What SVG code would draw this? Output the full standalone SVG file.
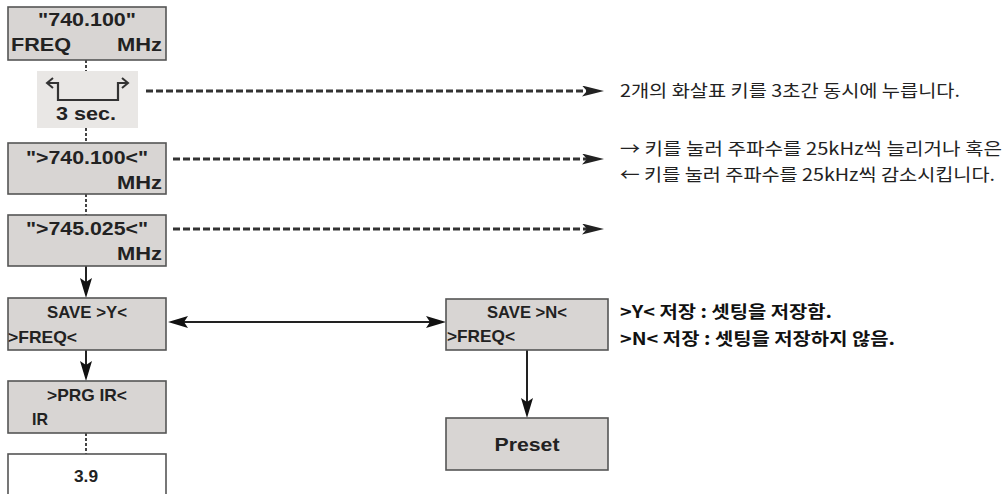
<svg xmlns="http://www.w3.org/2000/svg" width="1004" height="494" viewBox="0 0 1004 494">
<defs>
<style>
.box{fill:#d8d5d3;stroke:#555;stroke-width:1.6}
.wbox{fill:#fff;stroke:#555;stroke-width:1.6}
.bt{font-family:"Liberation Sans",Arial,sans-serif;font-weight:bold;fill:#222}
.kr{font-family:"Noto Sans CJK KR","Noto Sans",sans-serif;fill:#222;font-size:17px}
.krb{font-family:"Noto Sans CJK KR","Noto Sans",sans-serif;fill:#111;font-size:17px;font-weight:bold}
.dash{stroke:#333;stroke-width:2.8;stroke-dasharray:7 3;fill:none}
.vdash{stroke:#444;stroke-width:2;stroke-dasharray:3 2;fill:none}
.solid{stroke:#222;stroke-width:2;fill:none}
</style>
<marker id="ah" markerUnits="userSpaceOnUse" markerWidth="22" markerHeight="11" refX="5" refY="5.5" orient="auto" viewBox="0 0 22 11">
<path d="M0,0 L22,5.5 L0,11 L5,5.5 z" fill="#222"/>
</marker>
<marker id="sh" markerUnits="userSpaceOnUse" markerWidth="20" markerHeight="12" refX="4" refY="6" orient="auto-start-reverse" viewBox="0 0 20 12">
<path d="M0,0 L20,6 L0,12 L4,6 z" fill="#111"/>
</marker>
</defs>
<rect width="1004" height="494" fill="#fff"/>

<g id="connectors">
<line class="vdash" x1="86" y1="60" x2="86" y2="71"/>
<line class="vdash" x1="86" y1="128" x2="86" y2="143"/>
<line class="vdash" x1="86" y1="194" x2="86" y2="215"/>
<line class="vdash" x1="86" y1="433" x2="86" y2="454"/>
<line class="solid" x1="86" y1="266" x2="86" y2="282" marker-end="url(#sh)"/>
<line class="solid" x1="86" y1="350" x2="86" y2="365" marker-end="url(#sh)"/>
<line class="solid" x1="527" y1="350" x2="527" y2="402" marker-end="url(#sh)"/>
<line class="solid" x1="184" y1="322" x2="430" y2="322" marker-start="url(#sh)" marker-end="url(#sh)"/>
<line class="dash" x1="146" y1="91" x2="587" y2="91" marker-end="url(#ah)"/>
<line class="dash" x1="173" y1="159" x2="587" y2="159" marker-end="url(#ah)"/>
<line class="dash" x1="173" y1="229" x2="587" y2="229" marker-end="url(#ah)"/>
</g>

<g id="n-freq">
<rect class="box" x="8" y="7" width="158" height="53"/>
<text class="bt" x="87" y="26" font-size="19" text-anchor="middle" textLength="98" lengthAdjust="spacingAndGlyphs">"740.100"</text>
<text class="bt" x="11" y="51" font-size="19" textLength="60" lengthAdjust="spacingAndGlyphs">FREQ</text>
<text class="bt" x="162" y="51" font-size="19" text-anchor="end" textLength="45" lengthAdjust="spacingAndGlyphs">MHz</text>
</g>

<g id="n-3sec">
<rect x="37" y="71" width="101" height="57" fill="#e9e7e5"/>
<path d="M48,83 L58,83 L58,100 L118,100 L118,83 L127,83" fill="none" stroke="#333" stroke-width="2.2"/>
<path d="M53,78 L47,83 L53,88" fill="none" stroke="#333" stroke-width="2"/>
<path d="M122,78 L128,83 L122,88" fill="none" stroke="#333" stroke-width="2"/>
<text class="bt" x="86" y="120" font-size="19" text-anchor="middle" textLength="60" lengthAdjust="spacingAndGlyphs">3 sec.</text>
</g>

<g id="n-740">
<rect class="box" x="8" y="143" width="158" height="51"/>
<text class="bt" x="87" y="164" font-size="19" text-anchor="middle" textLength="122" lengthAdjust="spacingAndGlyphs">"&gt;740.100&lt;"</text>
<text class="bt" x="162" y="189" font-size="19" text-anchor="end" textLength="45" lengthAdjust="spacingAndGlyphs">MHz</text>
</g>

<g id="n-745">
<rect class="box" x="8" y="215" width="158" height="51"/>
<text class="bt" x="87" y="235" font-size="19" text-anchor="middle" textLength="122" lengthAdjust="spacingAndGlyphs">"&gt;745.025&lt;"</text>
<text class="bt" x="162" y="260" font-size="19" text-anchor="end" textLength="45" lengthAdjust="spacingAndGlyphs">MHz</text>
</g>

<g id="n-save-y">
<rect class="box" x="8" y="298" width="158" height="52"/>
<text class="bt" x="87" y="318" font-size="17" text-anchor="middle" textLength="80" lengthAdjust="spacingAndGlyphs">SAVE &gt;Y&lt;</text>
<text class="bt" x="8" y="343" font-size="17" textLength="69" lengthAdjust="spacingAndGlyphs">&gt;FREQ&lt;</text>
</g>

<g id="n-prg">
<rect class="box" x="8" y="381" width="158" height="52"/>
<text class="bt" x="87" y="401" font-size="17" text-anchor="middle" textLength="80" lengthAdjust="spacingAndGlyphs">&gt;PRG IR&lt;</text>
<text class="bt" x="32" y="425" font-size="17" textLength="16" lengthAdjust="spacingAndGlyphs">IR</text>
</g>

<g id="n-39">
<rect class="wbox" x="8" y="454" width="158" height="50"/>
<text class="bt" x="86" y="482" font-size="17" text-anchor="middle" textLength="24" lengthAdjust="spacingAndGlyphs">3.9</text>
</g>

<g id="n-save-n">
<rect class="box" x="446" y="299" width="162" height="51"/>
<text class="bt" x="527" y="318" font-size="17" text-anchor="middle" textLength="80" lengthAdjust="spacingAndGlyphs">SAVE &gt;N&lt;</text>
<text class="bt" x="447" y="342" font-size="17" textLength="68" lengthAdjust="spacingAndGlyphs">&gt;FREQ&lt;</text>
</g>

<g id="n-preset">
<rect class="box" x="446" y="418" width="162" height="52"/>
<text class="bt" x="527" y="451" font-size="18" text-anchor="middle" textLength="65" lengthAdjust="spacingAndGlyphs">Preset</text>
</g>

<g id="notes">
<text class="kr" x="620" y="97" textLength="340" lengthAdjust="spacingAndGlyphs">2개의 화살표 키를 3초간 동시에 누릅니다.</text>
<text class="kr" x="620" y="155" textLength="382" lengthAdjust="spacingAndGlyphs">→ 키를 눌러 주파수를 25kHz씩 늘리거나 혹은</text>
<text class="kr" x="620" y="181" textLength="375" lengthAdjust="spacingAndGlyphs">← 키를 눌러 주파수를 25kHz씩 감소시킵니다.</text>
<text class="krb" x="620" y="318" textLength="212" lengthAdjust="spacingAndGlyphs">&gt;Y&lt; 저장 : 셋팅을 저장함.</text>
<text class="krb" x="620" y="345" textLength="275" lengthAdjust="spacingAndGlyphs">&gt;N&lt; 저장 : 셋팅을 저장하지 않음.</text>
</g>
</svg>
